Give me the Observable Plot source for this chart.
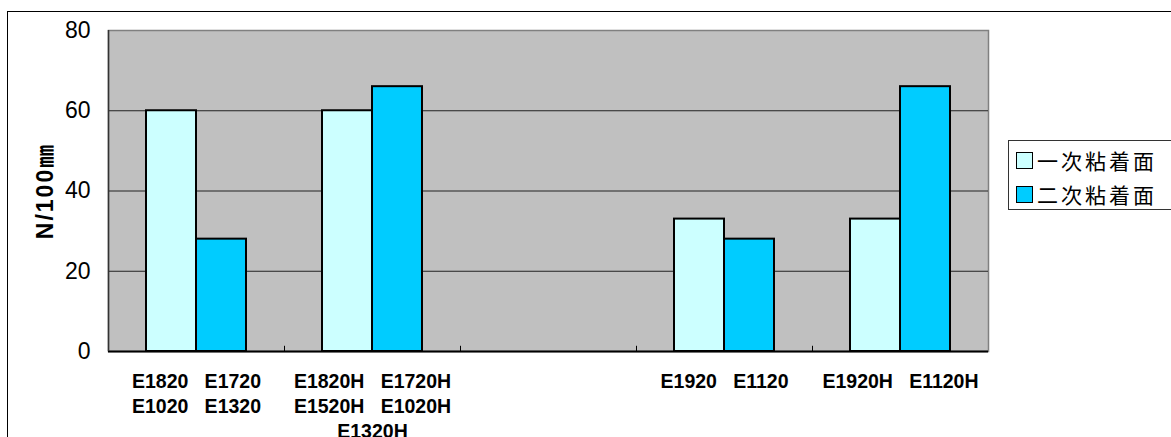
<!DOCTYPE html>
<html>
<head>
<meta charset="utf-8">
<script src="https://cdn.jsdelivr.net/npm/d3@7"></script>
<script src="https://cdn.jsdelivr.net/npm/@observablehq/plot@0.6"></script>
<style>
  html, body { margin: 0; padding: 0; background: #fff; overflow: hidden; }
  #wrap { position: relative; width: 1171px; height: 437px; overflow: hidden; }
  #chart { position: absolute; left: 0; top: 0; }
  #chart svg text { white-space: pre; }
  #outer { position: absolute; left: 7px; top: 11px; width: 1300px; height: 600px; border: 1px solid #000; pointer-events: none; }
  #legend { position: absolute; left: 1008px; top: 140px; width: 170px; height: 70px; border: 1px solid #333; background: #fff; box-sizing: border-box; padding-top: 2px; }
  .row { display: flex; align-items: center; height: 34px; }
  .sw { width: 15px; height: 15px; border: 1px solid #000; margin-left: 7px; margin-right: 4px; }
  .lab { font-family: "Noto Sans CJK JP", sans-serif; font-size: 21px; letter-spacing: 3px; color: #000; line-height: 1; }
</style>
</head>
<body>
<div id="wrap">
  <div id="chart"></div>
  <div id="legend"></div>
  <div id="outer"></div>
</div>
<script>
const categories = [
  "E1820   E1720\nE1020   E1320",
  "E1820H   E1720H\nE1520H   E1020H\nE1320H",
  "",
  "E1920   E1120",
  "E1920H   E1120H"
];
const seriesNames = ["一次粘着面", "二次粘着面"];
const primaryValues = [60, 60, null, 33, 33];
const secondaryValues = [28, 66, null, 28, 66];
const yTicks = [0, 20, 40, 60, 80];
const yLabel = "N/100㎜";
const colors = ["#CCFFFF", "#00CCFF"];

const W = 1171, H = 437;
const mL = 108, mR = 183, mT = 30, mB = 86;
const bw = (W - mL - mR) / categories.length;
const barW = 50;
const gap = bw / 2 - barW;

const primary = categories.map((c, i) => ({category: c, value: primaryValues[i]})).filter(d => d.value != null);
const secondary = categories.map((c, i) => ({category: c, value: secondaryValues[i]})).filter(d => d.value != null);

const chart = Plot.plot({
  width: W,
  height: H,
  marginLeft: mL,
  marginRight: mR,
  marginTop: mT,
  marginBottom: mB,
  style: {fontFamily: "'Liberation Sans', Arial, sans-serif", background: "transparent"},
  x: {domain: categories, padding: 0, axis: null},
  y: {domain: [0, 80], axis: null},
  marks: [
    Plot.frame({fill: "#C0C0C0", stroke: "#808080", strokeWidth: 1.5}),
    Plot.ruleY([20, 40, 60], {stroke: "#222", strokeWidth: 1}),
    Plot.ruleY([80], {x1: categories[0], stroke: "#333", strokeWidth: 2, dx: -bw / 2, insetRight: bw - 9}),
    Plot.barY(primary, {x: "category", y: "value", fill: colors[0], stroke: "#000", strokeWidth: 2, insetLeft: gap, insetRight: bw / 2}),
    Plot.barY(secondary, {x: "category", y: "value", fill: colors[1], stroke: "#000", strokeWidth: 2, insetLeft: bw / 2, insetRight: gap}),
    Plot.ruleX(categories.slice(1), {x: d => d, dx: -bw / 2, y1: 0, y2: 1.3, stroke: "#000", strokeWidth: 1}),
    Plot.ruleY([0], {stroke: "#000", strokeWidth: 2}),
    Plot.ruleX(categories.slice(0, 1), {x: d => d, dx: -bw / 2, stroke: "#333", strokeWidth: 1.5}),
    Plot.axisY({ticks: yTicks, tickSize: 0, tickPadding: 18, fontSize: 23, label: null, fill: "#000"}),
    Plot.text([yLabel], {
      frameAnchor: "left", textAnchor: "middle", dx: -63, rotate: -90, fontSize: 23, fontWeight: "bold", fill: "#000",
      fontFamily: "'Liberation Sans', 'Noto Sans CJK JP', sans-serif",
      render: (index, scales, values, dimensions, context, next) => {
        const g = next(index, scales, values, dimensions, context);
        g.setAttribute("letter-spacing", "2px");
        return g;
      }
    }),
    Plot.text(categories, {x: d => d, text: d => d, frameAnchor: "bottom", dy: 19, lineAnchor: "top", lineHeight: 1.28, fontSize: 19.5, fontWeight: "bold", fill: "#000"})
  ]
});
document.getElementById("chart").appendChild(chart);

const legend = document.getElementById("legend");
seriesNames.forEach((name, i) => {
  const row = document.createElement("div");
  row.className = "row";
  const sw = document.createElement("div");
  sw.className = "sw";
  sw.style.background = colors[i];
  const lab = document.createElement("span");
  lab.className = "lab";
  lab.textContent = name;
  row.appendChild(sw);
  row.appendChild(lab);
  legend.appendChild(row);
});
</script>
</body>
</html>
